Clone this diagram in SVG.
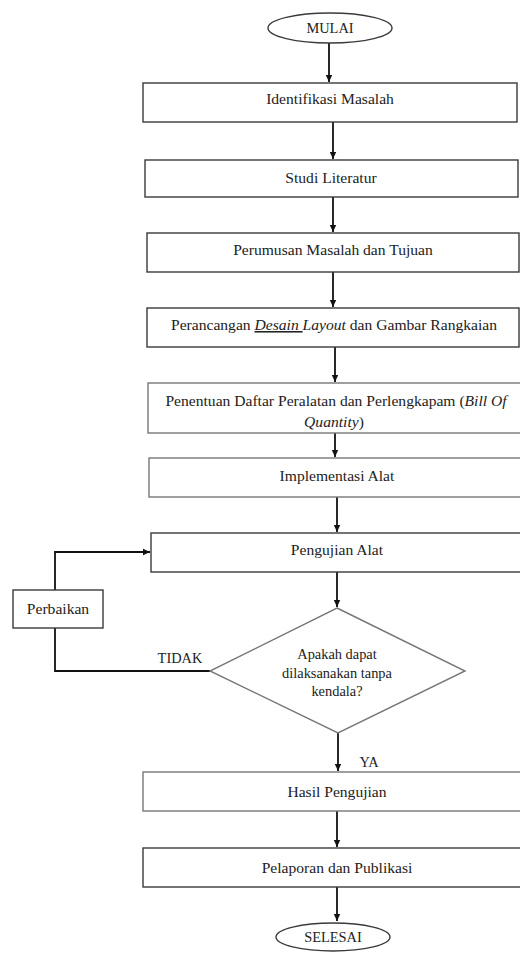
<svg xmlns="http://www.w3.org/2000/svg" width="520" height="959" viewBox="0 0 520 959">
<style>
.box{fill:#fff;stroke:#3a3a3a;stroke-width:1.4}
.lt{stroke:#777}
.t{font-family:"Liberation Serif","Times New Roman",serif;font-size:15.6px;fill:#222;text-anchor:middle}
.s{font-size:14.4px}
.c{fill:none;stroke:#111;stroke-width:1.8}
.i{font-style:italic}
</style>
<defs>
<marker id="ah" markerWidth="8" markerHeight="8" refX="7" refY="4" orient="auto" markerUnits="userSpaceOnUse">
<path d="M0,0.8 L7,4 L0,7.2 Z" fill="#111"/>
</marker>
</defs>
<rect width="520" height="959" fill="#fff"/>
<g id="connectors">
<line class="c" x1="329" y1="43" x2="329" y2="82" marker-end="url(#ah)"/>
<line class="c" x1="333" y1="122" x2="333" y2="159" marker-end="url(#ah)"/>
<line class="c" x1="333" y1="197" x2="333" y2="232" marker-end="url(#ah)"/>
<line class="c" x1="333" y1="272" x2="333" y2="307" marker-end="url(#ah)"/>
<line class="c" x1="335" y1="347" x2="335" y2="382" marker-end="url(#ah)"/>
<line class="c" x1="335" y1="418" x2="335" y2="457" marker-end="url(#ah)"/>
<line class="c" x1="337" y1="497" x2="337" y2="532" marker-end="url(#ah)"/>
<line class="c" x1="337" y1="572" x2="337" y2="607" marker-end="url(#ah)"/>
<polyline class="c" points="210,671 55,671 55,628"/>
<polyline class="c" points="55,590 55,552 150,552" marker-end="url(#ah)"/>
<line class="c" x1="338" y1="733" x2="338" y2="771" marker-end="url(#ah)"/>
<line class="c" x1="337" y1="811" x2="337" y2="847" marker-end="url(#ah)"/>
<line class="c" x1="337" y1="887" x2="337" y2="921" marker-end="url(#ah)"/>
<text class="t s" x="180" y="663">TIDAK</text>
<text class="t s" x="369" y="767">YA</text>
</g>
<g id="mulai">
<ellipse class="box" cx="330" cy="28" rx="62" ry="15"/>
<text class="t s" x="330" y="33">MULAI</text>
</g>
<g id="identifikasi">
<rect class="box" x="143" y="83" width="374" height="39"/>
<text class="t" x="330" y="104">Identifikasi Masalah</text>
</g>
<g id="studi">
<rect class="box" x="145" y="160" width="373" height="37"/>
<text class="t" x="331" y="183">Studi Literatur</text>
</g>
<g id="perumusan">
<rect class="box" x="147" y="233" width="372" height="39"/>
<text class="t" x="333" y="255">Perumusan Masalah dan Tujuan</text>
</g>
<g id="perancangan">
<rect class="box" x="147" y="308" width="372" height="39"/>
<text class="t" x="334" y="330">Perancangan <tspan class="i" text-decoration="underline">Desain </tspan><tspan class="i">Layout</tspan> dan Gambar Rangkaian</text>
</g>
<g id="penentuan">
<rect class="box lt" x="148" y="383" width="380" height="50"/>
<text class="t" x="336" y="406">Penentuan Daftar Peralatan dan Perlengkapam (<tspan class="i">Bill Of</tspan></text>
<text class="t" x="334" y="427"><tspan class="i">Quantity</tspan>)</text>
</g>
<g id="implementasi">
<rect class="box lt" x="149" y="458" width="380" height="39"/>
<text class="t" x="337" y="481">Implementasi Alat</text>
</g>
<g id="pengujian">
<rect class="box" x="151" y="533" width="380" height="39"/>
<text class="t" x="337" y="555">Pengujian Alat</text>
</g>
<g id="perbaikan">
<rect class="box" x="13" y="590" width="90" height="38"/>
<text class="t" x="58" y="614">Perbaikan</text>
</g>
<g id="keputusan">
<polygon class="box lt" points="337,608 465,671 338,733 210,671"/>
<text class="t s" x="337" y="659">Apakah dapat</text>
<text class="t s" x="337" y="678">dilaksanakan tanpa</text>
<text class="t s" x="337" y="696">kendala?</text>
</g>
<g id="hasil">
<rect class="box lt" x="143" y="772" width="390" height="39"/>
<text class="t" x="337" y="797">Hasil Pengujian</text>
</g>
<g id="pelaporan">
<rect class="box" x="143" y="848" width="390" height="39"/>
<text class="t" x="337" y="873">Pelaporan dan Publikasi</text>
</g>
<g id="selesai">
<ellipse class="box" cx="333" cy="937" rx="57" ry="14"/>
<text class="t s" x="333" y="942">SELESAI</text>
</g>
</svg>
